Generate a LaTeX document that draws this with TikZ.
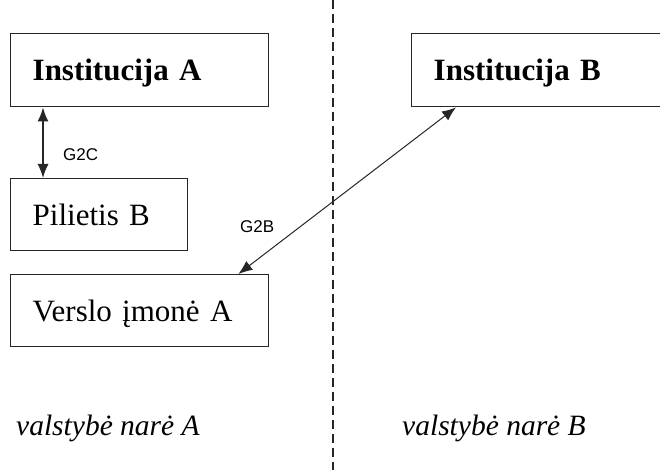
\documentclass[tikz,border=0pt]{standalone}
\usepackage{fontspec}
\setmainfont{Liberation Serif}
\newfontfamily\labelfont{Liberation Sans}
\usetikzlibrary{arrows.meta}
\begin{document}
\begin{tikzpicture}[x=1pt,y=-1pt,
  box/.style={draw=black!85, line width=1.4pt, anchor=north west, inner xsep=22pt, inner ysep=0pt,
    align=left, text depth=0pt, font=\fontsize{31}{36}\selectfont},
  conn/.style={{Latex[length=14pt,width=11pt]}-{Latex[length=14pt,width=11pt]}, draw=black!85},
  lbl/.style={font=\labelfont\fontsize{17}{20}\selectfont, inner sep=0pt},
  state/.style={font=\fontsize{29.5}{32}\selectfont\itshape, anchor=base west, inner sep=0pt}]
\clip (0,0) rectangle (660,470);
\fill[white] (0,0) rectangle (660,470);
\node[box, minimum width=258pt, minimum height=73pt, text width=214pt] (instA) at (10,33) {\textbf{Institucija A}};
\node[box, minimum width=177pt, minimum height=72pt, text width=133pt] (pil) at (10,178) {Pilietis B};
\node[box, minimum width=258pt, minimum height=72pt, text width=214pt] (vers) at (10,274) {Verslo įmonė A};
\node[box, minimum width=270pt, minimum height=73pt, text width=226pt] (instB) at (411,33) {\textbf{Institucija B}};
\coordinate (top) at (333,0);
\coordinate (bot) at (333,470);
\draw[black!85, line width=1.1pt, dash pattern=on 9pt off 5pt] (top) -- (bot);
\draw[conn, line width=1.5pt] ([xshift=33pt]instA.south west) -- ([xshift=33pt]pil.north west);
\draw[conn, line width=1pt] ([xshift=-31pt]vers.north east) -- ([xshift=45pt]instB.south west);
\node[lbl, anchor=west] (g2c) at (63,155) {G2C};
\node[lbl, anchor=west] (g2b) at (240,227) {G2B};
\node[state] (sA) at (16,435) {valstybė narė A};
\node[state] (sB) at (402,435) {valstybė narė B};
\end{tikzpicture}
\end{document}
